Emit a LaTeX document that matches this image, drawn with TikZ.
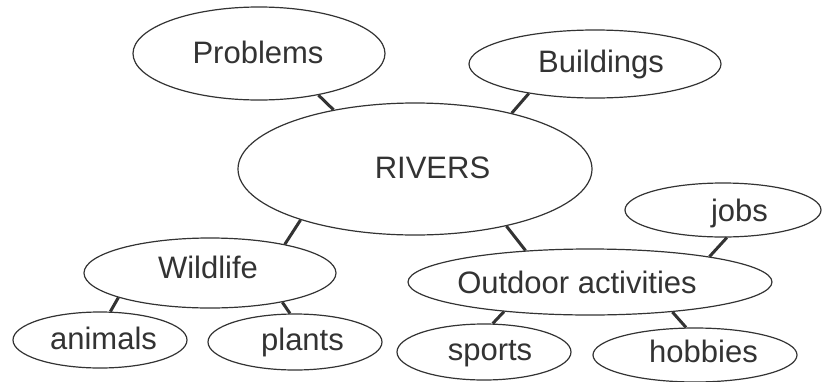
\documentclass[tikz,border=0pt]{standalone}
\usepackage{fontspec}
\setmainfont{Liberation Sans}
\usetikzlibrary{shapes.geometric}
\definecolor{ink}{HTML}{333333}
\begin{document}
\begin{tikzpicture}[x=1pt,y=-1pt,
  oval/.style={draw=ink,line width=1.2pt,ellipse,inner sep=0pt,fill=white},
  lbl/.style={text=ink,anchor=base,inner sep=0pt,font=\fontsize{31}{32}\selectfont},
  link/.style={draw=ink,line width=3pt}]
\useasboundingbox (0,0) rectangle (823,381);
% ellipses
\node[oval,minimum width=252pt,minimum height=93pt] (prob) at (259,53.5) {};
\node[oval,minimum width=252pt,minimum height=68pt] (build) at (595,64) {};
\node[oval,minimum width=354pt,minimum height=132pt] (riv) at (415,169) {};
\node[oval,minimum width=252pt,minimum height=70pt] (wild) at (210,273) {};
\node[oval,minimum width=196pt,minimum height=54pt] (jobs) at (723,210) {};
\node[oval,minimum width=364pt,minimum height=66pt] (out) at (590,282) {};
\node[oval,minimum width=174pt,minimum height=56pt] (anim) at (100,340) {};
\node[oval,minimum width=174pt,minimum height=56pt] (plant) at (295,342) {};
\node[oval,minimum width=174pt,minimum height=56pt] (sport) at (484,352) {};
\node[oval,minimum width=204pt,minimum height=54pt] (hobby) at (695,355) {};
% labels
\node[lbl] (tprob) at (258,63) {Problems};
\node[lbl] (tbuild) at (601,72) {Buildings};
\node[lbl] (triv) at (432.5,178) {RIVERS};
\node[lbl] (twild) at (208,278) {Wildlife};
\node[lbl] (tjobs) at (739.5,221) {jobs};
\node[lbl] (tout) at (577,293) {Outdoor activities};
\node[lbl] (tanim) at (103.5,349) {animals};
\node[lbl] (tplant) at (302.5,350) {plants};
\node[lbl] (tsport) at (490,360) {sports};
\node[lbl] (thobby) at (703.5,362) {hobbies};
% connectors
\draw[link] (prob.-35) -- (riv.144);
\draw[link] (build.204) -- (riv.30);
\draw[link] (riv.204) -- (wild.21);
\draw[link] (riv.-32) -- (out.154);
\draw[link] (jobs.-82) -- (out.12);
\draw[link] (out.199) -- (sport.73);
\draw[link] (out.-20) -- (hobby.108);
\draw[link] (wild.195) -- (anim.70);
\draw[link] (wild.-22) -- (plant.100);
\end{tikzpicture}
\end{document}
